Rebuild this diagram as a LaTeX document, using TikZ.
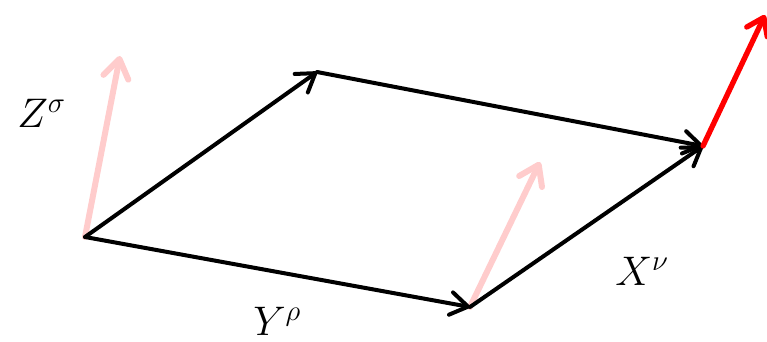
\RequirePackage{fix-cm}
\documentclass[tikz,border=0pt]{standalone}
\usepackage{tikz}
\usepackage{xcolor}
\usetikzlibrary{arrows.meta}
\definecolor{Pale}{HTML}{FFCCCC}
\definecolor{Bright}{HTML}{FF0000}

\begin{document}
\begin{tikzpicture}[x=0.75pt,y=-0.75pt,
  vec/.style={-{Straight Barb[length=13pt,width=17pt,round]},line width=3pt,draw=black,line cap=round},
  ghost/.style={-{Straight Barb[length=14pt,width=19pt,round]},line width=4.5pt,draw=Pale,line cap=round},
  lift/.style={-{Straight Barb[length=12pt,width=17pt,round]},line width=4pt,draw=Bright,line cap=round},
  lab/.style={anchor=base west,inner sep=0pt,font=\fontsize{31}{36}\selectfont}
]
\useasboundingbox (0,0) rectangle (767,342);
\coordinate (o) at (85,237);
\coordinate (top) at (317,72);
\coordinate (far) at (703,146);
\coordinate (right) at (470,307);
\coordinate (zt) at (120,56);
\coordinate (zs) at (540,162);
\coordinate (up) at (765,15);
\draw[ghost] (o) -- (zt);
\draw[ghost] (right) -- (zs);
\draw[vec] (o) -- (top);
\draw[vec] (top) -- (far);
\draw[vec] (o) -- (right);
\draw[vec] (right) -- (far);
\draw[lift] (far) -- (up);
\node[lab] (zlab) at (17,128) {$Z^\sigma$};
\node[lab] (ylab) at (253,335) {$Y^\rho$};
\node[lab] (xlab) at (615,285) {$X^\nu$};
\end{tikzpicture}
\end{document}
